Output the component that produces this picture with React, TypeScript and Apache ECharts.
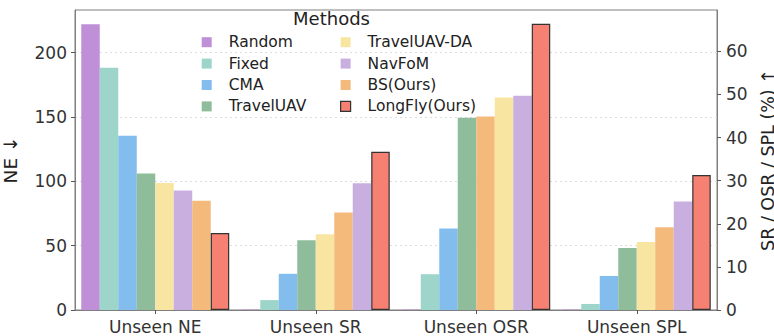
import React, { useEffect, useRef } from "react";
import * as echarts from "echarts";

const methods = ["Random", "Fixed", "CMA", "TravelUAV", "TravelUAV-DA", "NavFoM", "BS(Ours)", "LongFly(Ours)"];
const colors = ["#bf8fd8", "#9dd5cb", "#82bdee", "#8fbd9c", "#f9e5a2", "#c9afe0", "#f3ba7c", "#f68072"];
const categories = ["Unseen NE", "Unseen SR", "Unseen OSR", "Unseen SPL"];
const neValues = [222.1, 188.4, 135.5, 106.2, 98.7, 92.8, 85.0, 59.9];
const srValues = [0.1, 2.3, 8.4, 16.2, 17.6, 29.4, 22.6, 36.7];
const osrValues = [0.1, 8.3, 18.9, 44.6, 49.3, 49.7, 44.9, 66.4];
const splValues = [0.1, 1.4, 7.9, 14.4, 15.8, 25.2, 19.2, 31.3];
const neTicks = [0, 50, 100, 150, 200];
const pctTicks = [0, 10, 20, 30, 40, 50, 60];

const FONT = "DejaVu Sans";
const OURS = 7;

function order(values: number[], desc: boolean): number[] {
  const idx = values.map((_, i) => i);
  idx.sort((a, b) => (desc ? values[b] - values[a] : values[a] - values[b]));
  return idx;
}

function item(i: number, v: number) {
  return {
    value: v,
    itemStyle: {
      color: colors[i],
      borderColor: i === OURS ? "#333333" : colors[i],
      borderWidth: i === OURS ? 1.2 : 0,
    },
  };
}

export default function App() {
  const ref = useRef<HTMLDivElement>(null);

  useEffect(() => {
    if (!ref.current) return;
    const chart = echarts.init(ref.current, undefined, { renderer: "svg" });

    const neOrd = order(neValues, true);
    const srOrd = order(srValues, false);
    const osrOrd = order(osrValues, false);
    const splOrd = order(splValues, false);

    const series: any[] = [];
    for (let k = 0; k < methods.length; k++) {
      series.push({
        type: "bar",
        xAxisIndex: 0,
        yAxisIndex: 0,
        barGap: "0%",
        barCategoryGap: "7.8%",
        silent: true,
        data: [item(neOrd[k], neValues[neOrd[k]]), "-", "-", "-"],
      });
    }
    for (let k = 0; k < methods.length; k++) {
      series.push({
        type: "bar",
        xAxisIndex: 1,
        yAxisIndex: 1,
        barGap: "0%",
        barCategoryGap: "7.8%",
        silent: true,
        data: [
          "-",
          item(srOrd[k], srValues[srOrd[k]]),
          item(osrOrd[k], osrValues[osrOrd[k]]),
          item(splOrd[k], splValues[splOrd[k]]),
        ],
      });
    }
    // legend-only series on a hidden grid
    methods.forEach((m, i) => {
      series.push({
        type: "bar",
        name: m,
        xAxisIndex: 2,
        yAxisIndex: 2,
        data: [],
        itemStyle: {
          color: colors[i],
          borderColor: i === OURS ? "#333333" : colors[i],
          borderWidth: i === OURS ? 1.2 : 0,
        },
      });
    });

    const legendBase = {
      orient: "vertical",
      top: 31.5,
      padding: 0,
      itemGap: 0,
      itemWidth: 10,
      itemHeight: 10,
      icon: "rect",
      selectedMode: false,
      textStyle: {
        fontSize: 15.5,
        color: "#222222",
        fontFamily: FONT,
        lineHeight: 21.4,
        padding: [0, 0, 0, 12],
      },
    };
    const legendData = (names: string[]) =>
      names.map((n) =>
        n === methods[OURS]
          ? { name: n, itemStyle: { borderColor: "#333333", borderWidth: 1.2 } }
          : { name: n }
      );

    const axisColor = "#7f7f7f";
    const labelColor = "#333333";
    const gridBox = { left: 75, right: 57, top: 10, bottom: 26, outerBoundsMode: "none", containLabel: false };

    chart.setOption({
      animation: false,
      textStyle: { fontFamily: FONT },
      grid: [
        { ...gridBox, show: true, borderColor: axisColor, borderWidth: 1, backgroundColor: "transparent" },
        { ...gridBox, show: false },
        { left: 0, top: 0, width: 1, height: 1, show: false, outerBoundsMode: "none" },
      ],
      xAxis: [
        {
          type: "category",
          gridIndex: 0,
          data: categories,
          axisLine: { show: true, lineStyle: { color: axisColor, width: 1 } },
          axisTick: { show: true, alignWithLabel: true, length: 4, lineStyle: { color: "#555555" } },
          axisLabel: { fontSize: 17, lineHeight: 17, color: labelColor, margin: 8, fontFamily: FONT },
          splitLine: { show: false },
        },
        { type: "category", gridIndex: 1, data: categories, show: false },
        { type: "category", gridIndex: 2, data: ["x"], show: false },
      ],
      yAxis: [
        {
          type: "value",
          gridIndex: 0,
          min: 0,
          max: 233.2,
          interval: 50,
          name: "NE ↓",
          nameLocation: "middle",
          nameGap: 55,
          nameRotate: 90,
          nameTextStyle: { fontSize: 18.5, color: "#222222", fontFamily: FONT },
          axisLine: { show: true, lineStyle: { color: axisColor, width: 1 } },
          axisTick: { show: true, length: 4, lineStyle: { color: "#555555" }, customValues: neTicks },
          axisLabel: { fontSize: 17, color: labelColor, margin: 8, fontFamily: FONT, customValues: neTicks },
          splitLine: { show: true, lineStyle: { color: "#dddddd", type: [2, 3], width: 1 } },
        },
        {
          type: "value",
          gridIndex: 1,
          position: "right",
          min: 0,
          max: 69.6,
          interval: 10,
          name: "SR / OSR / SPL (%) ↑",
          nameLocation: "middle",
          nameGap: 34,
          nameRotate: 90,
          nameTextStyle: { fontSize: 17.5, lineHeight: 18, color: "#222222", fontFamily: FONT },
          axisLine: { show: true, lineStyle: { color: axisColor, width: 1 } },
          axisTick: { show: true, length: 4, lineStyle: { color: "#555555" }, customValues: pctTicks },
          axisLabel: { fontSize: 17, color: labelColor, margin: 9, fontFamily: FONT, customValues: pctTicks },
          splitLine: { show: false },
        },
        { type: "value", gridIndex: 2, show: false },
      ],
      legend: [
        { ...legendBase, left: 201.7, data: legendData(methods.slice(0, 4)) },
        { ...legendBase, left: 340, data: legendData(methods.slice(4)) },
      ],
      graphic: [
        {
          type: "text",
          x: 331.5,
          y: 18,
          silent: true,
          style: {
            text: "Methods",
            fontSize: 18,
            fontFamily: FONT,
            fill: "#222222",
            align: "center",
            verticalAlign: "middle",
          },
        },
      ],
      series,
    });

    return () => chart.dispose();
  }, []);

  return (
    <div
      ref={ref}
      style={{ position: "fixed", left: 0, top: 0, width: 774, height: 336, background: "#ffffff" }}
    />
  );
}
